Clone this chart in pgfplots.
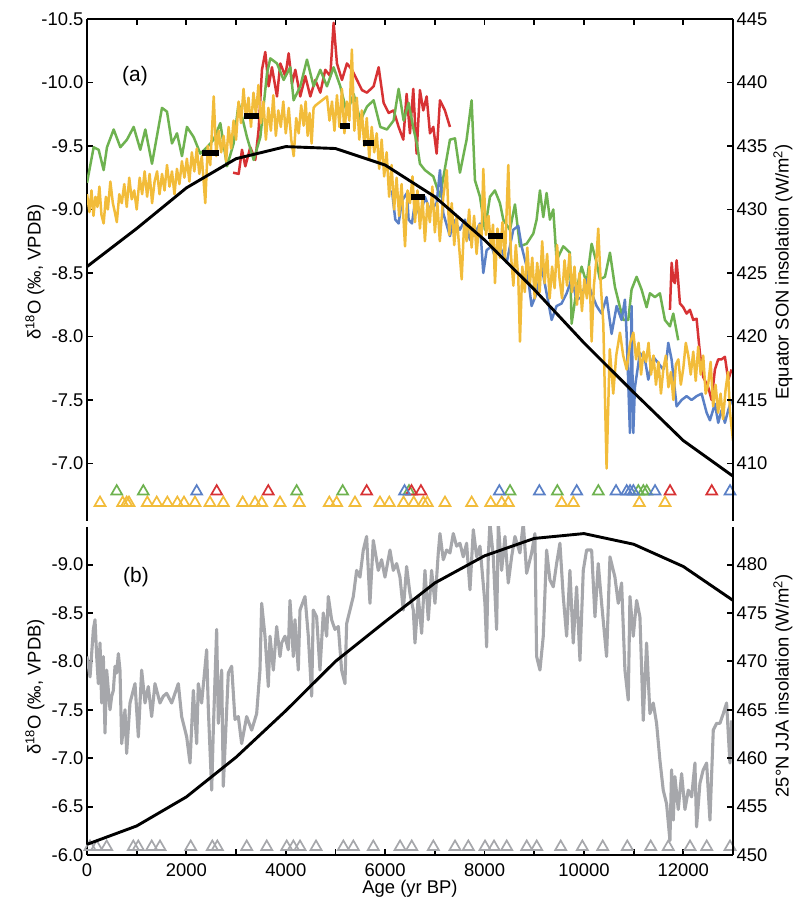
\documentclass[border=0pt]{standalone}
\usepackage{fontspec}
\setmainfont{Liberation Sans}
\usepackage{pgfplots}
\pgfplotsset{compat=1.18}
\definecolor{cred}{RGB}{215,50,52}
\definecolor{cgreen}{RGB}{110,178,80}
\definecolor{cblue}{RGB}{90,128,198}
\definecolor{cyellow}{RGB}{242,188,58}
\definecolor{cgray}{RGB}{166,167,171}
\pgfplotsset{
  base/.style={scale only axis, width=646bp, xmin=0, xmax=13000,
    xtick={0,1000,2000,3000,4000,5000,6000,7000,8000,9000,10000,11000,12000,13000},
    scaled x ticks=false, scaled y ticks=false,
    axis line style={line width=2.3bp},
    tick style={black, line width=1.9bp},
    major tick length=6bp,
    tick label style={font=\fontsize{18.5}{21}\selectfont},
    tick align=inside,
  },
  tri/.style={only marks, mark=triangle, mark size=6.3bp, mark options={line width=1.7bp}},
  dline/.style={line width=2.5bp, line join=round},
}
\begin{document}
\begin{tikzpicture}
\useasboundingbox (0,0) rectangle (795bp,900bp);
% ================= panel (a), left axis =================
\begin{axis}[base, at={(87bp,379bp)}, anchor=south west, height=502bp,
  axis x line*=top, axis y line*=left, xticklabels={},
  y dir=reverse, ymin=-10.5, ymax=-6.547,
  ytick={-10.5,-10,-9.5,-9,-8.5,-8,-7.5,-7},
  yticklabels={-10.5,-10.0,-9.5,-9.0,-8.5,-8.0,-7.5,-7.0},
  tick align=inside]
% red
\addplot[cred, dline] coordinates {
(2940,-9.29) (3052,-9.28) (3119,-9.47) (3186,-9.34) (3286,-9.49) (3387,-9.39) (3454,-9.63) (3521,-10.10) (3588,-10.24) (3655,-9.97) (3722,-10.12) (3823,-9.89) (3890,-10.15) (3991,-10.05) (4058,-10.23) (4125,-9.99) (4192,-10.10) (4292,-9.89) (4393,-10.05) (4494,-9.89) (4594,-10.02) (4695,-9.92) (4795,-10.10) (4896,-10.05) (4963,-10.47) (5030,-10.15) (5131,-10.02) (5231,-10.15) (5332,-10.10) (5433,-10.02) (5533,-9.94) (5634,-9.92) (5768,-9.97) (5869,-10.12) (5969,-9.84) (6070,-9.76) (6170,-9.78) (6271,-9.65) (6365,-9.55) (6432,-9.91) (6499,-9.60) (6566,-9.95) (6633,-9.44) (6700,-9.94) (6767,-9.78) (6835,-9.89) (6902,-9.60) (6969,-9.65) (7036,-9.44) (7103,-9.86) (7203,-9.78) (7304,-9.65)
};
\addplot[cred, dline] coordinates {
(11731,-8.21) (11765,-8.58) (11800,-8.44) (11831,-8.42) (11865,-8.60) (11932,-8.26) (11999,-8.23) (12066,-8.18) (12133,-8.21) (12200,-8.13) (12267,-8.14) (12334,-7.87) (12401,-7.68) (12502,-7.60) (12569,-7.50) (12636,-7.74) (12703,-7.82) (12770,-7.82) (12837,-7.84) (12904,-7.66) (12971,-7.74)
};
% green
\addplot[cgreen, dline] coordinates {
(0,-9.21) (134,-9.49) (235,-9.47) (335,-9.31) (402,-9.49) (537,-9.63) (671,-9.49) (805,-9.55) (939,-9.65) (1073,-9.47) (1174,-9.63) (1308,-9.36) (1509,-9.80) (1610,-9.77) (1710,-9.52) (1811,-9.60) (1911,-9.42) (2012,-9.65) (2146,-9.57) (2280,-9.44) (2415,-9.49) (2549,-9.55) (2683,-9.68) (2817,-9.34) (2951,-9.52) (3052,-9.84) (3219,-9.57) (3354,-9.39) (3488,-9.57) (3622,-10.07) (3689,-10.19) (3823,-10.15) (3957,-10.02) (4091,-10.12) (4158,-9.86) (4292,-9.97) (4427,-10.18) (4561,-9.97) (4695,-10.10) (4829,-9.97) (4963,-10.12) (5097,-9.97) (5231,-9.76) (5366,-9.91) (5500,-9.70) (5634,-9.81) (5768,-9.86) (5902,-9.65) (6036,-9.63) (6170,-9.70) (6271,-9.95) (6372,-9.70) (6472,-9.84) (6573,-9.63) (6640,-9.52) (6700,-9.36) (6801,-9.31) (6969,-9.26) (7103,-9.10) (7304,-9.55) (7405,-9.56) (7505,-9.29) (7639,-9.55) (7740,-9.86) (7807,-9.23) (7908,-9.10) (8008,-8.84) (8109,-9.10) (8209,-9.15) (8310,-9.05) (8377,-8.92) (8511,-8.84) (8612,-9.04) (8712,-8.71) (8847,-8.73) (8981,-8.81) (9048,-8.92) (9115,-9.15) (9182,-8.94) (9249,-9.13) (9316,-8.92) (9383,-9.00) (9450,-8.60) (9584,-8.71) (9718,-8.66) (9752,-8.10) (9853,-8.37) (9953,-8.55) (10054,-8.42) (10155,-8.73) (10255,-8.58) (10322,-8.45) (10423,-8.47) (10524,-8.66) (10624,-8.39) (10725,-8.23) (10792,-8.13) (10892,-8.13) (10959,-8.37) (11060,-8.47) (11160,-8.37) (11261,-8.23) (11328,-8.34) (11429,-8.31) (11529,-8.34) (11630,-8.13) (11731,-8.08) (11798,-8.18) (11898,-7.97)
};
% blue
\addplot[cblue, dline] coordinates {
(6137,-9.15) (6204,-8.92) (6271,-8.89) (6338,-9.07) (6439,-9.13) (6472,-8.92) (6539,-8.89) (6606,-9.07) (6700,-8.94) (6801,-9.10) (6902,-8.99) (7036,-9.05) (7103,-9.31) (7170,-8.97) (7304,-8.79) (7371,-8.92) (7505,-8.84) (7606,-8.92) (7707,-8.76) (7841,-8.84) (7908,-8.89) (7975,-8.50) (8042,-8.68) (8142,-8.71) (8209,-8.63) (8310,-8.71) (8444,-8.58) (8578,-8.84) (8679,-8.87) (8746,-8.71) (8847,-8.55) (8947,-8.24) (9048,-8.34) (9148,-8.55) (9249,-8.34) (9350,-8.13) (9450,-8.24) (9551,-8.26) (9652,-8.34) (9752,-8.45) (9853,-8.29) (9953,-8.31) (10054,-8.45) (10155,-8.34) (10255,-8.24) (10356,-8.18) (10456,-8.31) (10557,-8.02) (10658,-8.24) (10758,-8.13) (10825,-8.29) (10859,-8.02) (10926,-7.24) (10959,-8.24) (10993,-7.24) (11026,-7.60) (11127,-7.87) (11228,-7.82) (11295,-7.66) (11395,-7.84) (11496,-7.79) (11596,-7.74) (11663,-7.82) (11697,-7.95) (11764,-7.82) (11865,-7.45) (11966,-7.50) (12066,-7.53) (12167,-7.50) (12267,-7.53) (12368,-7.55) (12469,-7.40) (12536,-7.34) (12636,-7.47) (12703,-7.32) (12770,-7.42) (12837,-7.32) (12904,-7.42) (12971,-7.50)
};
% yellow
\addplot[cyellow, dline] coordinates {
(0,-9.12) (50,-8.98) (90,-9.15) (130,-8.95) (170,-9.10) (210,-9.02) (250,-9.18) (290,-8.96) (335,-8.89) (380,-9.10) (420,-9.00) (470,-9.22) (520,-9.05) (560,-8.98) (600,-8.90) (650,-9.12) (700,-9.05) (750,-9.20) (800,-9.02) (850,-9.25) (900,-9.08) (950,-9.15) (1000,-9.00) (1060,-9.25) (1110,-9.12) (1160,-9.30) (1210,-9.10) (1260,-9.28) (1310,-9.05) (1360,-9.22) (1410,-9.30) (1460,-9.12) (1510,-9.28) (1560,-9.15) (1610,-9.35) (1660,-9.18) (1710,-9.30) (1760,-9.12) (1810,-9.32) (1860,-9.20) (1910,-9.38) (1960,-9.25) (2010,-9.40) (2060,-9.22) (2110,-9.45) (2160,-9.30) (2210,-9.48) (2260,-9.28) (2310,-9.42) (2380,-9.05) (2430,-9.50) (2480,-9.35) (2550,-9.89) (2600,-9.42) (2650,-9.62) (2700,-9.45) (2750,-9.58) (2800,-9.38) (2850,-9.65) (2900,-9.48) (2950,-9.70) (3000,-9.55) (3050,-9.85) (3100,-9.68) (3150,-9.95) (3200,-9.72) (3250,-9.88) (3300,-9.65) (3350,-9.92) (3400,-9.75) (3450,-9.98) (3500,-9.68) (3550,-9.85) (3600,-9.55) (3650,-9.80) (3700,-9.62) (3750,-9.90) (3800,-9.58) (3850,-9.78) (3900,-9.65) (3950,-9.85) (4000,-9.60) (4060,-9.80) (4110,-9.55) (4160,-9.42) (4210,-9.72) (4260,-9.60) (4310,-9.82) (4360,-9.66) (4400,-9.85) (4440,-9.58) (4480,-9.76) (4520,-9.52) (4560,-9.80) (4600,-9.82) (4830,-9.89) (4880,-9.70) (4930,-9.85) (4980,-9.62) (5030,-9.90) (5080,-9.65) (5130,-9.95) (5180,-9.60) (5230,-9.85) (5280,-9.70) (5330,-10.26) (5380,-9.62) (5430,-9.88) (5480,-9.55) (5530,-9.78) (5580,-9.50) (5630,-9.72) (5680,-9.40) (5730,-9.65) (5780,-9.45) (5830,-9.60) (5880,-9.32) (5930,-9.55) (5980,-9.26) (6030,-9.45) (6080,-9.10) (6130,-9.35) (6180,-9.00) (6230,-9.25) (6280,-8.95) (6330,-9.20) (6400,-8.71) (6450,-9.15) (6500,-9.05) (6550,-9.26) (6600,-8.90) (6650,-9.15) (6700,-8.85) (6750,-9.10) (6800,-8.75) (6850,-9.05) (6900,-8.90) (6950,-9.18) (7000,-8.82) (7050,-9.05) (7100,-8.75) (7170,-9.10) (7240,-9.31) (7290,-8.80) (7340,-9.05) (7390,-8.72) (7440,-8.95) (7490,-8.70) (7540,-8.45) (7590,-8.90) (7640,-8.75) (7690,-9.00) (7740,-8.70) (7790,-8.95) (7840,-8.65) (7890,-8.88) (7940,-8.78) (7975,-9.32) (8030,-8.80) (8080,-8.95) (8130,-8.70) (8170,-8.88) (8210,-8.42) (8260,-8.85) (8310,-8.62) (8360,-8.90) (8410,-8.60) (8478,-9.35) (8530,-8.65) (8580,-8.40) (8630,-8.72) (8680,-8.45) (8713,-7.96) (8760,-8.55) (8810,-8.35) (8860,-8.70) (8910,-8.40) (8960,-8.62) (9010,-8.30) (9060,-8.58) (9110,-8.35) (9160,-8.75) (9210,-8.42) (9260,-8.65) (9310,-8.30) (9360,-8.55) (9410,-8.38) (9460,-8.72) (9510,-8.45) (9560,-8.30) (9610,-8.60) (9660,-8.40) (9710,-8.65) (9760,-8.35) (9810,-8.55) (9860,-8.25) (9910,-8.50) (9960,-8.20) (10010,-8.45) (10060,-8.30) (10110,-8.55) (10155,-7.96) (10200,-8.40) (10250,-8.60) (10288,-8.85) (10340,-8.40) (10390,-8.10) (10456,-6.96) (10520,-7.90) (10590,-7.55) (10650,-7.85) (10725,-8.03) (10790,-7.85) (10860,-7.74) (10930,-7.95) (10995,-8.03) (11050,-7.82) (11100,-7.95) (11150,-7.70) (11200,-7.88) (11250,-7.80) (11300,-7.95) (11350,-7.70) (11400,-7.85) (11450,-7.62) (11500,-7.80) (11550,-7.55) (11600,-7.75) (11650,-7.85) (11700,-7.60) (11750,-7.72) (11800,-7.50) (11850,-7.78) (11900,-7.82) (11950,-7.62) (12000,-7.75) (12050,-7.95) (12100,-7.85) (12150,-7.70) (12200,-7.88) (12250,-7.65) (12300,-7.92) (12350,-7.70) (12400,-7.85) (12450,-7.55) (12500,-7.62) (12550,-7.80) (12600,-7.45) (12650,-7.62) (12700,-7.40) (12750,-7.55) (12800,-7.35) (12850,-7.58) (12900,-7.72) (12940,-7.40) (13000,-7.18)
};
% black bars
\addplot[black, line width=6bp, unbounded coords=jump] coordinates {
(2314,-9.445) (2656,-9.445) (2700,nan) (3160,-9.74) (3461,-9.74) (3500,nan) (5092,-9.66) (5293,-9.66) (5400,nan) (5554,-9.52) (5776,-9.52) (5800,nan) (6520,-9.10) (6802,-9.10) (6900,nan) (8070,-8.79) (8372,-8.79)
};
% triangles
\addplot[tri, cyellow] coordinates {
(262,-6.69) (718,-6.69) (798,-6.69) (845,-6.69) (1214,-6.69) (1403,-6.69) (1617,-6.69) (1818,-6.69) (1952,-6.69) (2173,-6.69) (2475,-6.69) (2743,-6.69) (3133,-6.69) (3381,-6.69) (3516,-6.69) (3884,-6.69) (4272,-6.69) (4876,-6.69) (5024,-6.69) (5393,-6.69) (5896,-6.69) (6083,-6.69) (6370,-6.69) (6575,-6.69) (6768,-6.69) (6848,-6.69) (7204,-6.69) (7741,-6.69) (8124,-6.69) (8346,-6.69) (8479,-6.69) (9553,-6.69) (9787,-6.69) (11115,-6.69) (11632,-6.69)
};
\addplot[tri, cgreen] coordinates {
(598,-6.78) (1133,-6.78) (4219,-6.78) (5145,-6.78) (6480,-6.78) (8513,-6.78) (9465,-6.78) (10290,-6.78) (11095,-6.78) (11196,-6.78) (11264,-6.78)
};
\addplot[tri, cred] coordinates {
(2610,-6.78) (3648,-6.78) (5628,-6.78) (6530,-6.78) (6720,-6.78) (11733,-6.78) (12572,-6.78)
};
\addplot[tri, cblue] coordinates {
(2207,-6.78) (6390,-6.78) (8298,-6.78) (9103,-6.78) (9855,-6.78) (10646,-6.78) (10861,-6.78) (10928,-6.78) (10995,-6.78) (11431,-6.78) (12940,-6.78)
};
\end{axis}
% ================= panel (a), right axis =================
\begin{axis}[base, at={(87bp,379bp)}, anchor=south west, height=502bp,
  axis x line=none, axis y line*=right, ymin=405.47, ymax=445,
  ytick={410,415,420,425,430,435,440,445},
  yticklabels={410,415,420,425,430,435,440,445}, tick align=inside]
\addplot[black, line width=2.9bp, line join=round] coordinates {
(0,425.5) (1000,428.5) (2000,431.7) (3000,434.0) (4000,434.95) (5000,434.8) (6000,433.5) (7000,431.0) (8000,427.6) (9000,423.7) (10000,419.5) (11000,415.6) (12000,411.8) (13000,409.0)
};
\end{axis}
% ================= panel (b), left axis =================
\begin{axis}[base, at={(87bp,45bp)}, anchor=south west, height=328bp,
  axis x line*=bottom, axis y line*=left,
  xticklabels={0,,2000,,4000,,6000,,8000,,10000,,12000,},
  xticklabel style={yshift=-5bp},
  y dir=reverse, ymin=-9.388, ymax=-6.0,
  ytick={-9,-8.5,-8,-7.5,-7,-6.5,-6},
  yticklabels={-9.0,-8.5,-8.0,-7.5,-7.0,-6.5,-6.0}, tick align=inside]
\addplot[cgray, line width=3.1bp, line join=round] coordinates {
(0,-8.05) (61,-7.84) (128,-8.33) (161,-8.43) (195,-8.05) (228,-7.77) (262,-8.19) (295,-7.57) (329,-8.05) (362,-7.26) (396,-7.91) (430,-7.70) (463,-7.50) (497,-7.64) (530,-7.70) (564,-7.95) (597,-7.88) (631,-8.08) (664,-7.91) (698,-7.15) (765,-7.50) (798,-7.05) (865,-7.57) (966,-7.77) (1033,-7.22) (1100,-7.91) (1167,-7.57) (1234,-7.74) (1301,-7.43) (1368,-7.77) (1469,-7.57) (1536,-7.64) (1603,-7.67) (1704,-7.57) (1838,-7.77) (1905,-7.43) (2006,-7.22) (2073,-6.95) (2140,-7.70) (2207,-7.15) (2240,-7.77) (2307,-7.57) (2408,-8.12) (2442,-7.50) (2509,-6.67) (2542,-7.29) (2609,-8.33) (2643,-7.36) (2710,-7.91) (2743,-6.71) (2844,-7.88) (2911,-7.95) (2978,-7.40) (3045,-7.43) (3112,-7.15) (3213,-7.43) (3314,-7.29) (3414,-7.46) (3481,-7.91) (3515,-8.60) (3582,-8.26) (3649,-7.74) (3683,-8.26) (3750,-7.91) (3817,-8.36) (3884,-8.05) (3917,-8.19) (3984,-8.26) (4051,-8.12) (4085,-8.63) (4152,-8.05) (4185,-8.43) (4252,-7.91) (4286,-8.53) (4387,-8.67) (4454,-8.26) (4521,-7.64) (4554,-8.53) (4621,-8.46) (4688,-7.91) (4755,-8.50) (4823,-8.26) (4856,-8.67) (4923,-8.43) (4990,-8.33) (5057,-8.36) (5124,-7.91) (5191,-7.77) (5225,-8.39) (5292,-8.53) (5359,-8.67) (5426,-8.94) (5493,-8.87) (5560,-9.15) (5627,-9.29) (5694,-8.60) (5761,-9.25) (5862,-8.94) (5929,-9.05) (5996,-8.87) (6097,-9.15) (6164,-8.94) (6231,-9.01) (6298,-8.87) (6365,-8.53) (6432,-8.98) (6499,-8.70) (6566,-8.53) (6600,-8.19) (6667,-8.67) (6734,-8.29) (6801,-8.94) (6868,-8.43) (6935,-8.94) (7002,-8.60) (7069,-9.12) (7103,-9.32) (7170,-9.05) (7237,-9.15) (7304,-9.12) (7371,-9.32) (7438,-9.19) (7505,-9.22) (7572,-9.08) (7639,-9.22) (7707,-8.74) (7774,-9.36) (7841,-9.08) (7908,-9.19) (8008,-8.60) (8042,-8.15) (8075,-9.08) (8109,-9.43) (8176,-9.08) (8243,-8.33) (8277,-9.43) (8344,-8.94) (8411,-9.29) (8478,-8.81) (8545,-9.08) (8612,-9.29) (8712,-9.12) (8780,-9.43) (8847,-8.91) (8947,-9.12) (9014,-9.32) (9048,-8.05) (9115,-7.91) (9182,-8.26) (9249,-9.15) (9316,-8.84) (9383,-8.77) (9450,-9.01) (9517,-9.22) (9584,-8.67) (9652,-8.26) (9718,-8.94) (9785,-8.19) (9853,-8.77) (9920,-8.01) (9987,-8.94) (10054,-9.15) (10155,-9.15) (10222,-8.46) (10288,-9.01) (10356,-8.60) (10456,-8.05) (10524,-9.08) (10624,-8.87) (10691,-8.60) (10758,-8.81) (10825,-7.91) (10892,-7.60) (10926,-8.67) (10993,-8.26) (11060,-8.63) (11127,-8.46) (11194,-7.39) (11261,-8.19) (11328,-7.46) (11395,-7.57) (11462,-7.36) (11529,-6.98) (11596,-6.67) (11663,-6.53) (11731,-6.15) (11764,-6.88) (11798,-6.36) (11831,-6.81) (11898,-6.47) (11966,-6.84) (12033,-6.47) (12100,-6.67) (12167,-6.60) (12234,-6.95) (12267,-6.29) (12334,-6.74) (12401,-6.88) (12469,-6.95) (12536,-6.36) (12603,-7.29) (12670,-7.36) (12737,-7.36) (12804,-7.46) (12871,-7.57) (12938,-6.95) (12971,-7.39)
};
\addplot[tri, cgray] coordinates {
(60,-6.085) (195,-6.085) (396,-6.085) (932,-6.085) (1032,-6.085) (1302,-6.085) (1469,-6.085) (2087,-6.085) (2522,-6.085) (2623,-6.085) (3214,-6.085) (3617,-6.085) (4019,-6.085) (4153,-6.085) (4287,-6.085) (4609,-6.085) (5159,-6.085) (5360,-6.085) (5762,-6.085) (6300,-6.085) (6535,-6.085) (6970,-6.085) (7406,-6.085) (7674,-6.085) (8010,-6.085) (8191,-6.085) (8446,-6.085) (8849,-6.085) (9050,-6.085) (9533,-6.085) (9968,-6.085) (10378,-6.085) (10873,-6.085) (11344,-6.085) (11698,-6.085) (12135,-6.085) (12471,-6.085) (12940,-6.085)
};
\end{axis}
% ================= panel (b), right axis =================
\begin{axis}[base, at={(87bp,45bp)}, anchor=south west, height=328bp,
  axis x line=none, axis y line*=right, ymin=450, ymax=483.88,
  ytick={450,455,460,465,470,475,480},
  yticklabels={450,455,460,465,470,475,480}, tick align=inside]
\addplot[black, line width=2.9bp, line join=round] coordinates {
(0,451.1) (1000,453.0) (2000,456.0) (3000,460.1) (4000,464.9) (5000,470.0) (6000,474.1) (7000,478.1) (8000,480.9) (9000,482.7) (10000,483.2) (11000,482.1) (12000,479.8) (13000,476.3)
};
\end{axis}
% labels
\node[font=\fontsize{21}{24}\selectfont] at (135bp,824bp) {(a)};
\node[font=\fontsize{21}{24}\selectfont] at (136bp,323bp) {(b)};
\node[rotate=90, font=\fontsize{18.5}{21}\selectfont] at (35bp,628bp) {δ\textsuperscript{18}O (‰, VPDB)};
\node[rotate=90, font=\fontsize{18.5}{21}\selectfont] at (35bp,213bp) {δ\textsuperscript{18}O (‰, VPDB)};
\node[rotate=90, font=\fontsize{18.5}{21}\selectfont] at (783bp,628bp) {Equator SON insolation (W/m\textsuperscript{2})};
\node[rotate=90, font=\fontsize{18.5}{21}\selectfont] at (783bp,214bp) {25°N JJA insolation (W/m\textsuperscript{2})};
\node[font=\fontsize{18.5}{21}\selectfont] at (410bp,11bp) {Age (yr BP)};
\end{tikzpicture}
\end{document}
